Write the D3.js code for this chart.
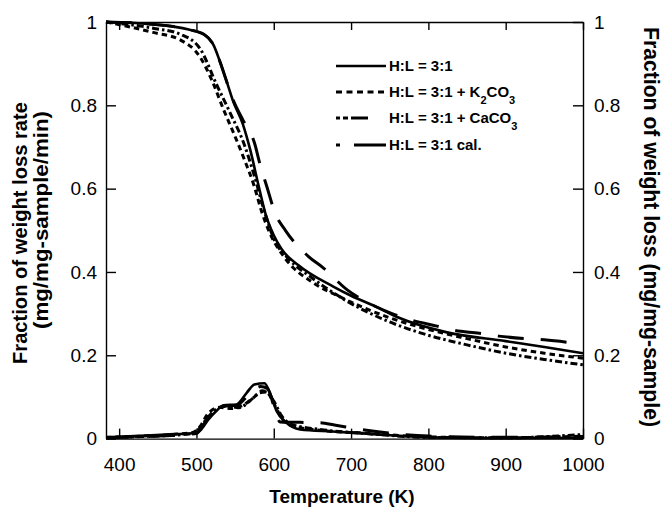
<html>
<head>
<meta charset="utf-8">
<title>TG / DTG</title>
<style>
  body { margin: 0; background: #fff; }
  text { font-family: "Liberation Sans", Arial, sans-serif; }
</style>
<script src="https://d3js.org/d3.v7.min.js"></script>
</head>
<body>
<svg width="664" height="509"></svg>
<script>
// temperature (K), fraction of weight loss  (upper curves, right axis)
var tgBase = [[383,1],[440,0.995],[490,0.982],[510,0.97],[522,0.945],[530,0.907],[540,0.852],[547,0.812],[560,0.755],[570,0.69],[580,0.61],[590,0.535],[600,0.488],[610,0.455],[632,0.416],[677,0.365],[700,0.343],[731,0.318],[762,0.29],[824,0.255],[900,0.234],[950,0.22],[1000,0.205]];
var tgK2 = [[383,1],[444,0.975],[479,0.957],[505,0.915],[520,0.86],[535,0.79],[550,0.725],[563,0.665],[574,0.61],[585,0.541],[595,0.493],[613,0.437],[652,0.373],[686,0.34],[750,0.29],[800,0.262],[850,0.24],[900,0.22],[950,0.205],[1000,0.193]];
var tgCa = [[383,1],[444,0.985],[480,0.97],[505,0.935],[526,0.85],[544,0.78],[561,0.71],[575,0.63],[588,0.545],[600,0.48],[620,0.43],[650,0.385],[690,0.335],[750,0.28],[800,0.248],[850,0.225],[900,0.205],[950,0.19],[1000,0.177]];
var tgCal = [[383,1],[440,0.995],[490,0.982],[510,0.97],[522,0.945],[530,0.907],[540,0.852],[547,0.815],[560,0.765],[575,0.71],[582,0.66],[591,0.605],[602,0.54],[615,0.5],[645,0.437],[664,0.41],[695,0.357],[718,0.33],[753,0.3],[777,0.285],[811,0.27],[833,0.26],[866,0.253],[891,0.246],[926,0.24],[950,0.237],[985,0.23]];

// temperature (K), fraction of weight loss rate  (lower curves, left axis)
var dtgBase = [[383,0.003],[420,0.006],[460,0.01],[495,0.013],[505,0.02],[515,0.045],[525,0.065],[535,0.08],[552,0.082],[565,0.11],[575,0.13],[588,0.133],[596,0.105],[604,0.065],[615,0.04],[634,0.022],[676,0.017],[720,0.012],[800,0.003],[900,0.001],[1000,0.002]];
var dtgK2 = [[383,0.003],[430,0.006],[470,0.01],[495,0.015],[505,0.03],[515,0.06],[530,0.075],[545,0.072],[560,0.08],[575,0.1],[585,0.115],[592,0.11],[600,0.085],[610,0.05],[625,0.03],[660,0.02],[720,0.013],[800,0.004],[900,0.002],[1000,0.006]];
var dtgCa = [[383,0.002],[430,0.005],[470,0.008],[497,0.013],[510,0.04],[525,0.07],[540,0.078],[555,0.074],[570,0.092],[582,0.11],[590,0.112],[600,0.09],[610,0.055],[625,0.033],[660,0.022],[720,0.012],[800,0.003],[900,0.002],[1000,0.01]];
var dtgCal = [[383,0.002],[450,0.006],[500,0.012],[515,0.05],[535,0.078],[552,0.08],[570,0.11],[583,0.125],[592,0.12],[603,0.06],[608,0.04],[660,0.038],[680,0.032],[720,0.02],[800,0.006],[900,0.003],[1000,0.005]];

var xTicks = [400,500,600,700,800,900,1000];
var yTicks = [0,0.2,0.4,0.6,0.8,1];
var legendLabels = ["H:L = 3:1", "H:L = 3:1 + K_2CO_3", "H:L = 3:1 + CaCO_3", "H:L = 3:1 cal."];

var svg = d3.select("svg");
var pLeft = 106, pRight = 583, pTop = 22, pBottom = 438.6;

var x = d3.scaleLinear().domain([383,1000]).range([pLeft,pRight]);
var y = d3.scaleLinear().domain([0,1]).range([pBottom,pTop]);

// line styles: plot dash and legend dash
var styles = [
  {plot:null, legend:null},
  {plot:"5.5,4", legend:"6,4.5"},
  {plot:"7,3,2.5,3", legend:"4,3,5,3,17,40"},
  {plot:"26,17", legend:"4,14,32,20"}
];

var line = d3.line().x(d=>x(d[0])).y(d=>y(d[1])).curve(d3.curveMonotoneX);

var series = [[tgBase,dtgBase],[tgK2,dtgK2],[tgCa,dtgCa],[tgCal,dtgCal]];
var plot = svg.append("g");
series.forEach(function(s,i){
  s.forEach(function(data){
    plot.append("path")
      .attr("d", line(data))
      .attr("fill","none")
      .attr("stroke","#000")
      .attr("stroke-width", i==0 ? 2.6 : 3)
      .attr("stroke-dasharray", styles[i].plot);
  });
});

// axes
var fmt = d => d;
var gB = svg.append("g").attr("transform",`translate(0,${pBottom})`)
  .call(d3.axisBottom(x).tickValues(xTicks).tickSizeInner(-10).tickSizeOuter(0).tickPadding(19).tickFormat(fmt));
var gT = svg.append("g").attr("transform",`translate(0,${pTop})`)
  .call(d3.axisTop(x).tickValues(xTicks).tickSizeInner(-8).tickSizeOuter(0).tickFormat(""));
var gL = svg.append("g").attr("transform",`translate(${pLeft},0)`)
  .call(d3.axisLeft(y).tickValues(yTicks).tickSizeInner(-10).tickSizeOuter(0).tickPadding(9).tickFormat(fmt));
var gR = svg.append("g").attr("transform",`translate(${pRight},0)`)
  .call(d3.axisRight(y).tickValues(yTicks).tickSizeInner(-10).tickSizeOuter(0).tickPadding(11).tickFormat(fmt));

[gB,gT,gL,gR].forEach(function(g){
  g.select(".domain").attr("stroke","#000").attr("stroke-width",1.4);
  g.selectAll(".tick line").attr("stroke","#000").attr("stroke-width",1.4);
  g.selectAll(".tick text").attr("fill","#000")
    .style("font-family","'Liberation Sans', Arial, sans-serif").style("font-size","19px");
});
gT.selectAll(".tick text").remove();

// axis titles
svg.append("text")
  .attr("transform","translate(342,503)")
  .attr("text-anchor","middle")
  .style("font-weight","bold").style("font-size","19px")
  .text("Temperature (K)");

svg.append("text")
  .attr("transform","translate(27,233) rotate(-90)")
  .attr("text-anchor","middle")
  .attr("textLength",262).attr("lengthAdjust","spacingAndGlyphs")
  .style("font-weight","bold").style("font-size","19.5px")
  .text("Fraction of weight loss rate");
svg.append("text")
  .attr("transform","translate(48,220) rotate(-90)")
  .attr("text-anchor","middle")
  .attr("textLength",218).attr("lengthAdjust","spacingAndGlyphs")
  .style("font-weight","bold").style("font-size","20px")
  .text("(mg/mg-sample/min)");

svg.append("text")
  .attr("transform","translate(644,227) rotate(90)")
  .attr("text-anchor","middle")
  .attr("textLength",400).attr("lengthAdjust","spacingAndGlyphs")
  .style("font-weight","bold").style("font-size","22px")
  .text("Fraction of  weight loss (mg/mg-sample)");

// legend
var legY = [66,92,118,145];
var leg = svg.append("g");
legendLabels.forEach(function(lab,i){
  leg.append("line")
    .attr("x1",336).attr("x2",386)
    .attr("y1",legY[i]).attr("y2",legY[i])
    .attr("stroke","#000").attr("stroke-width",i==0?2.6:3)
    .attr("stroke-dasharray",styles[i].legend);
  var t = leg.append("text")
    .attr("x",389).attr("y",legY[i]+5)
    .style("font-weight","bold").style("font-size","15px");
  var shift = 0;
  lab.split(/(_\d)/).forEach(function(part){
    if(!part) return;
    if(part[0]=="_"){
      t.append("tspan").attr("dy",7).style("font-size","11px").text(part[1]);
      shift = -7;
    } else {
      t.append("tspan").attr("dy",shift).text(part);
      shift = 0;
    }
  });
});
</script>
</body>
</html>
